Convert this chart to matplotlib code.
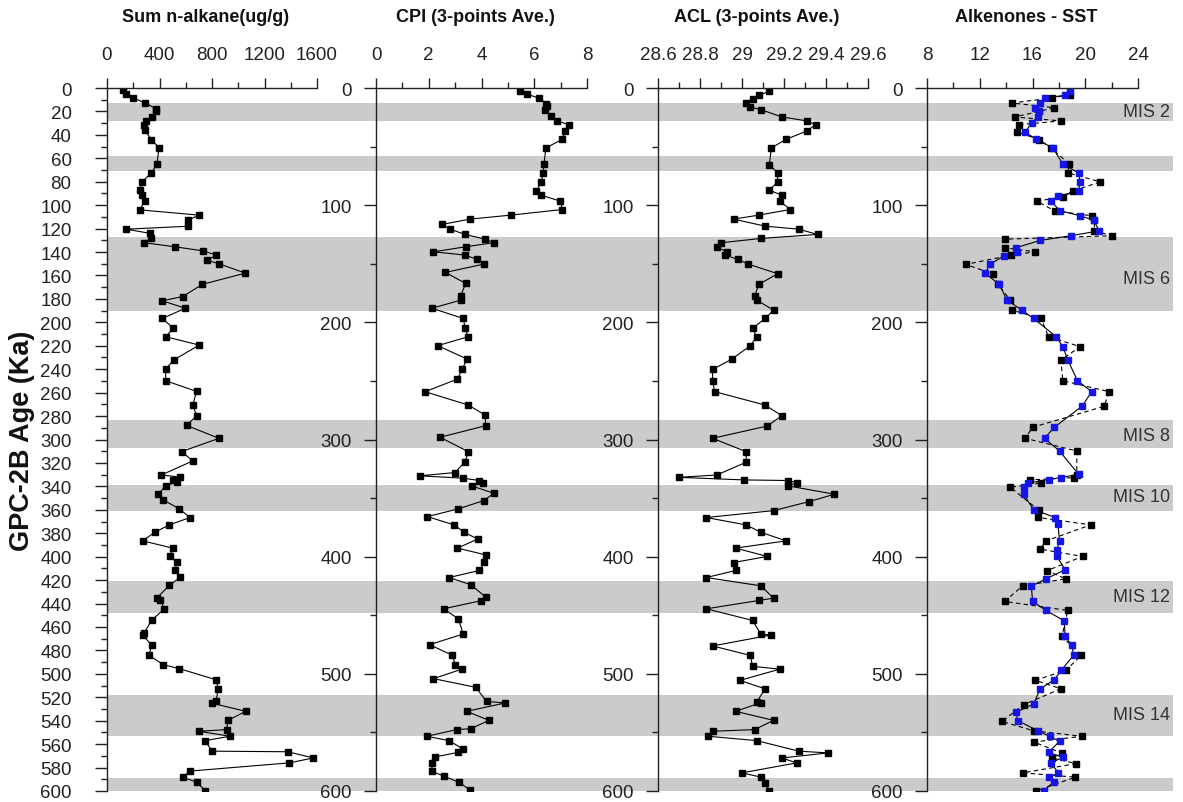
import numpy as np
import matplotlib
matplotlib.use("Agg")
import matplotlib.pyplot as plt
from matplotlib.ticker import MultipleLocator
import matplotlib.transforms as mtransforms

plt.rcParams['font.family'] = ['Liberation Sans', 'DejaVu Sans']

# ---------------- data ----------------
alk_age = [2, 4.8, 8.5, 12.5, 17.6, 20, 24.7, 28.4, 31.8, 36, 44, 51, 65, 72.4, 80, 87, 91.5, 96.6,
           104, 108.5, 112.8, 118, 120.5, 124, 128, 132, 135.5, 139, 142.6, 147, 150, 158, 167.6,
           178, 181.6, 188, 196.7, 205, 212.3, 219.4, 232, 240, 249.8, 259, 270.6, 279.6, 288, 299,
           310.3, 318.3, 330.3, 332, 334.5, 336.5, 339.5, 346.7, 351.6, 359.2, 366.6, 372.9, 379,
           386.5, 392.7, 399.8, 404.7, 411.2, 417.7, 424.6, 435.4, 436.8, 444.5, 454.4, 465.2,
           466.6, 475.7, 484.2, 492.2, 495.6, 505, 512.7, 523.5, 525, 532, 539.7, 547.6, 549,
           553.3, 557, 566, 566.5, 571.8, 576, 583, 588.2, 592.5, 599.6]
alk_val = [122, 142, 198, 287, 371, 376, 345, 295, 279, 287, 338, 396, 381, 338, 269, 249, 267, 287,
           249, 701, 617, 617, 147, 325, 338, 279, 516, 732, 833, 762, 853, 1054, 726,
           577, 421, 597, 421, 505, 447, 703, 510, 447, 447, 683, 653, 683, 607, 853,
           569, 653, 414, 556, 505, 530, 447, 391, 429, 551, 632, 475, 366,
           272, 500, 480, 531, 521, 556, 475, 378, 404, 437, 340, 282,
           272, 340, 320, 429, 551, 830, 848, 830, 798, 1057, 922, 912, 701,
           937, 747, 800, 1377, 1572, 1389, 632, 577, 683, 747]

cpi_age = [2.8, 5.4, 8.5, 13.4, 15.3, 18.5, 23.9, 28.1, 31.3, 36.6, 43.8, 51.1, 65, 72.4, 80.1, 88,
           91.5, 96.6, 103.7, 108.5, 111.9, 116.5, 120.5, 125, 129, 132, 135.5, 139.8, 142.6, 146.3,
           150.3, 157.4, 166.8, 177.4, 181, 188, 196.7, 205.2, 212.3, 219.9, 231.3, 240, 248.4,
           259.2, 270.6, 279.1, 288.2, 298.1, 310.4, 318.8, 328.2, 331, 333, 335, 336.8, 339.6,
           345.9, 352.1, 359.2, 365.8, 372.9, 379, 385, 392.7, 398.5, 404.7, 411.8, 417.8, 424,
           434.5, 437.6, 444.5, 453, 466, 475.1, 484.2, 492.2, 495.9, 504.1, 511.5, 523.5, 524.9,
           532, 539.7, 546.8, 547.6, 553.3, 557, 564.1, 567, 571, 576, 583.2, 587.5, 592.6, 599]
cpi_val = [5.45, 5.73, 6.18, 6.46, 6.49, 6.40, 6.65, 6.86, 7.32, 7.17, 7.07, 6.44, 6.37, 6.33, 6.27, 6.08,
           6.27, 6.99, 7.07, 5.11, 3.56, 2.49, 2.81, 3.38, 4.14, 4.47, 3.41, 2.18, 3.38, 3.82,
           4.09, 2.63, 3.40, 3.21, 3.22, 2.12, 3.31, 3.38, 3.49, 2.34, 3.45, 3.27, 3.09,
           1.86, 3.50, 4.14, 4.16, 2.43, 3.50, 3.38, 3.00, 1.65, 3.29, 3.92, 4.07, 3.63,
           4.47, 4.09, 3.12, 1.95, 2.96, 3.34, 3.85, 3.09, 4.16, 4.11, 3.92, 2.77, 3.60,
           4.16, 3.98, 2.56, 3.12, 3.31, 2.03, 2.90, 3.00, 3.27, 2.18, 3.78, 4.19, 4.89,
           3.44, 4.28, 3.60, 3.06, 1.93, 2.77, 3.29, 3.12, 2.22, 2.12, 2.12, 2.59, 3.15, 3.56]

acl_age = [2.8, 6.3, 9.1, 12.5, 16.2, 18.5, 24.7, 28.1, 31.3, 36.6, 43.8, 51.1, 65.3, 72.4, 80.1, 87.2,
           91.5, 96.6, 103.7, 108.5, 111.9, 117.9, 120.5, 125, 128.4, 132.1, 136, 139.8, 142.6,
           146.3, 150.3, 158.5, 167.6, 177.6, 181, 189.6, 196.7, 205.2, 212.3, 219.9, 231.6,
           240.1, 249.8, 259.2, 270.6, 279.7, 288.5, 299, 310.4, 319.4, 330.3, 332.3, 334.5, 335,
           337, 339.6, 346.7, 353, 360.7, 366.6, 372.9, 379.2, 386.5, 392.7, 399.8, 405, 411.8,
           417.8, 424.9, 435.4, 437.4, 444.5, 454.4, 466.2, 466.8, 476.2, 484.3, 493.6, 496,
           505.6, 512.8, 524.1, 524.6, 532, 539.7, 547.6, 549, 553.3, 557, 566, 567.5, 571.8,
           576, 584.5, 588.2, 593, 599.6]
acl_val = [29.13, 29.08, 29.05, 29.02, 29.04, 29.09, 29.19, 29.31, 29.35, 29.31, 29.21, 29.14, 29.13,
           29.17, 29.17, 29.13, 29.19, 29.18, 29.23, 29.08, 28.96, 29.11, 29.27, 29.36, 29.09,
           28.90, 28.88, 28.93, 28.92, 28.98, 29.03, 29.17, 29.08, 29.06, 29.07, 29.15, 29.11,
           29.05, 29.07, 29.04, 28.95, 28.86, 28.86, 28.87, 29.11, 29.19, 29.12, 28.86, 29.02,
           29.02, 28.88, 28.70, 29.01, 29.22, 29.26, 29.22, 29.44, 29.32, 29.15, 28.83, 29.02,
           29.09, 29.21, 28.97, 29.12, 28.96, 28.97, 28.83, 29.09, 29.15, 29.08, 28.83, 29.05,
           29.09, 29.14, 28.86, 29.04, 29.05, 29.18, 28.99, 29.11, 29.07, 29.09, 28.97, 29.15,
           29.06, 28.86, 28.84, 29.07, 29.27, 29.41, 29.19, 29.26, 29.00, 29.09, 29.11, 29.13]

sst_age = [5.7, 8.5, 12.8, 16.8, 20, 24.7, 28.1, 31.3, 37.5, 44, 51, 65, 72.4, 80.1, 88, 92.9, 96.6,
           104.8, 109.1, 112.8, 121.9, 126.1, 129, 136.4, 139.8, 142.6, 150.6, 158.5, 167.6, 181,
           189.6, 196.7, 212.3, 220.8, 232.2, 249.8, 259.2, 271.7, 289.6, 299, 309.8, 330.3,
           332.5, 334.5, 337.3, 340.7, 360.2, 366.4, 372.9, 386.5, 393.6, 399.8, 412, 418.9,
           424.9, 438.2, 445.9, 468.1, 484.2, 497, 505.5, 512.7, 526.4, 540.6, 548.6, 553.3,
           558.2, 567.5, 571.8, 576.6, 584.5, 588.2, 600]
sst_val = [18.81, 17.47, 14.44, 17.65, 16.5, 14.64, 18.15, 15.0, 14.82, 16.5, 17.4, 18.78, 18.68,
           21.13, 19.06, 18.30, 16.33, 17.67, 20.5, 20.7, 20.68, 22.01, 13.88, 13.88, 16.21,
           14.39, 10.93, 12.97, 13.4, 14.31, 14.44, 16.66, 17.22, 19.62, 18.15, 18.30, 21.81,
           21.43, 16.0, 15.45, 19.36, 19.36, 19.16, 15.83, 16.66, 14.31, 16.46, 16.38, 20.42,
           17.02, 16.59, 19.80, 17.09, 18.53, 15.25, 13.88, 18.68, 18.23, 19.70, 18.53, 16.21,
           18.15, 15.32, 13.68, 16.08, 19.74, 16.08, 18.23, 17.47, 19.31, 15.27, 19.24, 16.26]

sst3_age = [2.6, 6.3, 8.5, 12.5, 16.8, 19.9, 24.7, 29.5, 37.5, 43.8, 51.1, 65, 72.4, 80.1, 88, 92.3,
            96.6, 104.8, 109.1, 112.8, 121.9, 126.1, 130.1, 136.4, 139.8, 143.5, 150.6, 158.2,
            167.6, 181, 189.6, 196.7, 212.3, 220.8, 232.2, 249.8, 259.2, 271.7, 289.6, 299, 309.8,
            329.7, 332.5, 334.2, 337.3, 340.2, 346.7, 359.8, 366.6, 372.3, 386.5, 394.2, 399.8,
            411.2, 418.9, 425.2, 438.2, 445.9, 454.7, 468.1, 475.7, 484.2, 497, 505, 512.7,
            525.8, 532.9, 540, 548.6, 553.3, 557.6, 567, 571.3, 576, 584.5, 588.2, 592.5, 599.6]
sst3_val = [18.81, 18.43, 16.91, 16.59, 16.21, 16.46, 16.41, 15.95, 15.45, 16.26, 17.55, 18.30, 19.49,
            19.62, 19.49, 17.97, 17.39, 18.10, 19.62, 20.63, 21.06, 18.91, 16.59, 14.72, 14.82,
            13.81, 12.75, 12.42, 13.48, 14.06, 15.20, 16.08, 17.80, 18.30, 18.68, 19.41, 20.50,
            19.74, 17.65, 16.91, 18.05, 19.49, 18.15, 17.22, 15.63, 15.37, 15.32, 16.08, 17.72,
            17.93, 18.05, 17.85, 17.85, 18.48, 17.02, 15.91, 16.01, 17.02, 18.40, 18.48, 18.99,
            19.11, 18.18, 17.65, 16.59, 16.08, 14.74, 14.89, 16.41, 17.29, 18.05, 17.22, 18.30,
            17.39, 17.97, 17.27, 17.60, 16.84]

# glacial stages (grey bands) and their labels
mis_top = [13, 58, 127, 283, 339, 421, 518, 589]
mis_bot = [28, 71, 190, 307, 361, 448, 553, 600]
mis_names = ['MIS 2', 'MIS 6', 'MIS 8', 'MIS 10', 'MIS 12', 'MIS 14']
mis_label_age = [20, 163, 297, 349, 434, 535]

# ---------------- figure ----------------
W, H = 1183, 803
fig = plt.figure(figsize=(W / 100, H / 100), dpi=100)
top_px, bot_px = 89, 792


def rect(l, r):
    return [l / W, (H - bot_px) / H, (r - l) / W, (bot_px - top_px) / H]


# background with the grey bands, spanning all panels
axbg = fig.add_axes(rect(107, 1173))
axbg.set_ylim(600, 0)
axbg.set_xlim(0, 1)
axbg.axis('off')
for t, b in zip(mis_top, mis_bot):
    axbg.axhspan(t, b, color='#cbcbcb', lw=0)
for name, a in zip(mis_names, mis_label_age):
    axbg.text(0.997, a, name, ha='right', va='center', fontsize=13, color='#333333')

col = '#222222'
panels = [
    dict(px=(107, 317), title='Sum n-alkane(ug/g)', xlim=(0, 1600), maj=400, mnr=200),
    dict(px=(376, 587), title='CPI (3-points Ave.)', xlim=(0, 8), maj=2, mnr=1),
    dict(px=(658, 868), title='ACL (3-points Ave.)', xlim=(28.6, 29.6), maj=0.2, mnr=0.1),
    dict(px=(927, 1138), title='Alkenones - SST', xlim=(8, 24), maj=4, mnr=2),
]

axes = []
for i, p in enumerate(panels):
    ax = fig.add_axes(rect(*p['px']))
    ax.set_facecolor('none')
    ax.set_ylim(600, 0)
    ax.set_xlim(*p['xlim'])
    for s in ['right', 'bottom']:
        ax.spines[s].set_visible(False)
    for s in ['left', 'top']:
        ax.spines[s].set_color(col)
        ax.spines[s].set_linewidth(1.0)
    ax.xaxis.tick_top()
    ax.xaxis.set_major_locator(MultipleLocator(p['maj']))
    ax.xaxis.set_minor_locator(MultipleLocator(p['mnr']))
    if i == 0:
        ax.yaxis.set_major_locator(MultipleLocator(20))
        ax.yaxis.set_minor_locator(MultipleLocator(10))
        ypad = 17
    else:
        ax.yaxis.set_major_locator(MultipleLocator(100))
        ax.yaxis.set_minor_locator(MultipleLocator(50))
        ypad = 9
    ax.tick_params(axis='x', which='major', length=7, width=1, pad=11,
                   labelsize=13.5, colors=col, direction='out')
    ax.tick_params(axis='x', which='minor', length=4, width=1, colors=col, direction='out')
    ax.tick_params(axis='y', which='major', length=8.5, width=1, pad=ypad,
                   labelsize=13.5, colors=col, direction='out')
    ax.tick_params(axis='y', which='minor', length=4.5, width=1, colors=col, direction='out')
    if i == 2:
        ax.xaxis.set_major_formatter(matplotlib.ticker.FuncFormatter(lambda v, pos: f'{v:g}'))
    cx = (p['px'][0] + p['px'][1]) / 2 - 6
    fig.text(cx / W, 1 - 18 / H, p['title'], ha='center', va='center',
             fontsize=13, fontweight='bold', color='#111111')
    axes.append(ax)

mk = dict(marker='s', markersize=5, lw=0.8)
axes[0].plot(alk_val, alk_age, color='black', mfc='black', mec='black', **mk)
axes[1].plot(cpi_val, cpi_age, color='black', mfc='black', mec='black', **mk)
axes[2].plot(acl_val, acl_age, color='black', mfc='black', mec='black', **mk)
axes[3].plot(sst_val, sst_age, color='black', mfc='black', mec='black', ls=(0, (4, 3)), **mk)
axes[3].plot(sst3_val, sst3_age, color='black', mfc='#1515e6', mec='#1515e6', **mk)

fig.text(22 / W, 1 - 441 / H, 'GPC-2B Age (Ka)', rotation=90, ha='center', va='center',
         fontsize=19.5, fontweight='bold', color='#111111')

fig.savefig('out.png', dpi=100)
